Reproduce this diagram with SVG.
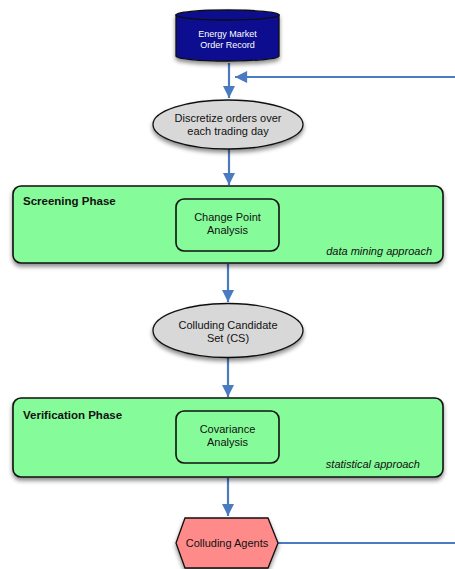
<svg xmlns="http://www.w3.org/2000/svg" width="455" height="569" viewBox="0 0 455 569">
<defs>
<filter id="sh" x="-10%" y="-20%" width="120%" height="150%">
<feDropShadow dx="0" dy="3" stdDeviation="2" flood-color="#000" flood-opacity="0.45"/>
</filter>
<marker id="ah" viewBox="0 0 10 10" refX="10" refY="5" markerWidth="6.3" markerHeight="5.5" orient="auto" markerUnits="strokeWidth">
<path d="M0,0 L10,5 L0,10 Z" fill="#4A7BC0"/>
</marker>
<style>
.conn{stroke:#4A7BC0;stroke-width:2.2;fill:none}
.t{font-family:"Liberation Sans",Arial,sans-serif;font-size:11px;fill:#111;text-anchor:middle}
.phase{fill:#86FB99;stroke:#111;stroke-width:1.6}
.inner{fill:#86FB99;stroke:#111;stroke-width:1.6}
.ell{fill:#D8D8D8;stroke:#111;stroke-width:1.3}
.b{font-family:"Liberation Sans",Arial,sans-serif;font-size:11.5px;font-weight:bold;fill:#111}
.i{font-family:"Liberation Sans",Arial,sans-serif;font-size:11px;font-style:italic;fill:#111;text-anchor:end}
</style>
</defs>
<rect width="455" height="569" fill="#fff"/>
<g id="connectors">
<line class="conn" x1="229" y1="63" x2="229" y2="98" marker-end="url(#ah)"/>
<line class="conn" x1="455" y1="77" x2="235" y2="77" marker-end="url(#ah)"/>
<line class="conn" x1="229" y1="149" x2="229" y2="185" marker-end="url(#ah)"/>
<line class="conn" x1="228" y1="264" x2="228" y2="302" marker-end="url(#ah)"/>
<line class="conn" x1="228" y1="358" x2="228" y2="397" marker-end="url(#ah)"/>
<line class="conn" x1="228" y1="478" x2="228" y2="516" marker-end="url(#ah)"/>
<line class="conn" x1="278" y1="543" x2="455" y2="543"/>
</g>
<g id="energy">
<g filter="url(#sh)">
<path d="M176,15 L176,56 A51.5,5 0 0 0 279,56 L279,15 Z" fill="#0A108F" stroke="#111" stroke-width="1.3"/>
<ellipse cx="227.5" cy="15" rx="51.5" ry="5" fill="#0A108F" stroke="#111" stroke-width="1.3"/>
</g>
<text x="227.5" y="37" font-family="'Liberation Sans',Arial,sans-serif" font-size="9px" fill="#fff" text-anchor="middle">Energy Market</text>
<text x="227.5" y="48" font-family="'Liberation Sans',Arial,sans-serif" font-size="9px" fill="#fff" text-anchor="middle">Order Record</text>
</g>
<g id="discretize">
<ellipse class="ell" cx="228" cy="124.5" rx="75" ry="24.5" filter="url(#sh)"/>
<text class="t" x="228" y="122">Discretize orders over</text>
<text class="t" x="228" y="135">each trading day</text>
</g>
<g id="screening">
<rect class="phase" x="13" y="186" width="430" height="77" rx="8" filter="url(#sh)"/>
<text class="b" x="23" y="205">Screening Phase</text>
<text class="i" x="432" y="255">data mining approach</text>
</g>
<g id="changepoint">
<rect class="inner" x="176" y="199" width="103" height="52" rx="8"/>
<text class="t" x="227.5" y="221">Change Point</text>
<text class="t" x="227.5" y="234">Analysis</text>
</g>
<g id="candidate">
<ellipse class="ell" cx="228" cy="330.5" rx="75" ry="27" filter="url(#sh)"/>
<text class="t" x="228" y="329">Colluding Candidate</text>
<text class="t" x="228" y="342">Set (CS)</text>
</g>
<g id="verification">
<rect class="phase" x="13" y="398" width="430" height="79" rx="8" filter="url(#sh)"/>
<text class="b" x="23" y="419">Verification Phase</text>
<text class="i" x="420" y="468">statistical approach</text>
</g>
<g id="covariance">
<rect class="inner" x="176" y="411" width="103" height="52" rx="8"/>
<text class="t" x="227.5" y="433">Covariance</text>
<text class="t" x="227.5" y="446">Analysis</text>
</g>
<g id="agents">
<polygon points="176,543 185,518 268,518 278,543 268,568 185,568" fill="#FF8A8A" stroke="#111" stroke-width="1.3" filter="url(#sh)"/>
<text class="t" x="227" y="547">Colluding Agents</text>
</g>
</svg>
